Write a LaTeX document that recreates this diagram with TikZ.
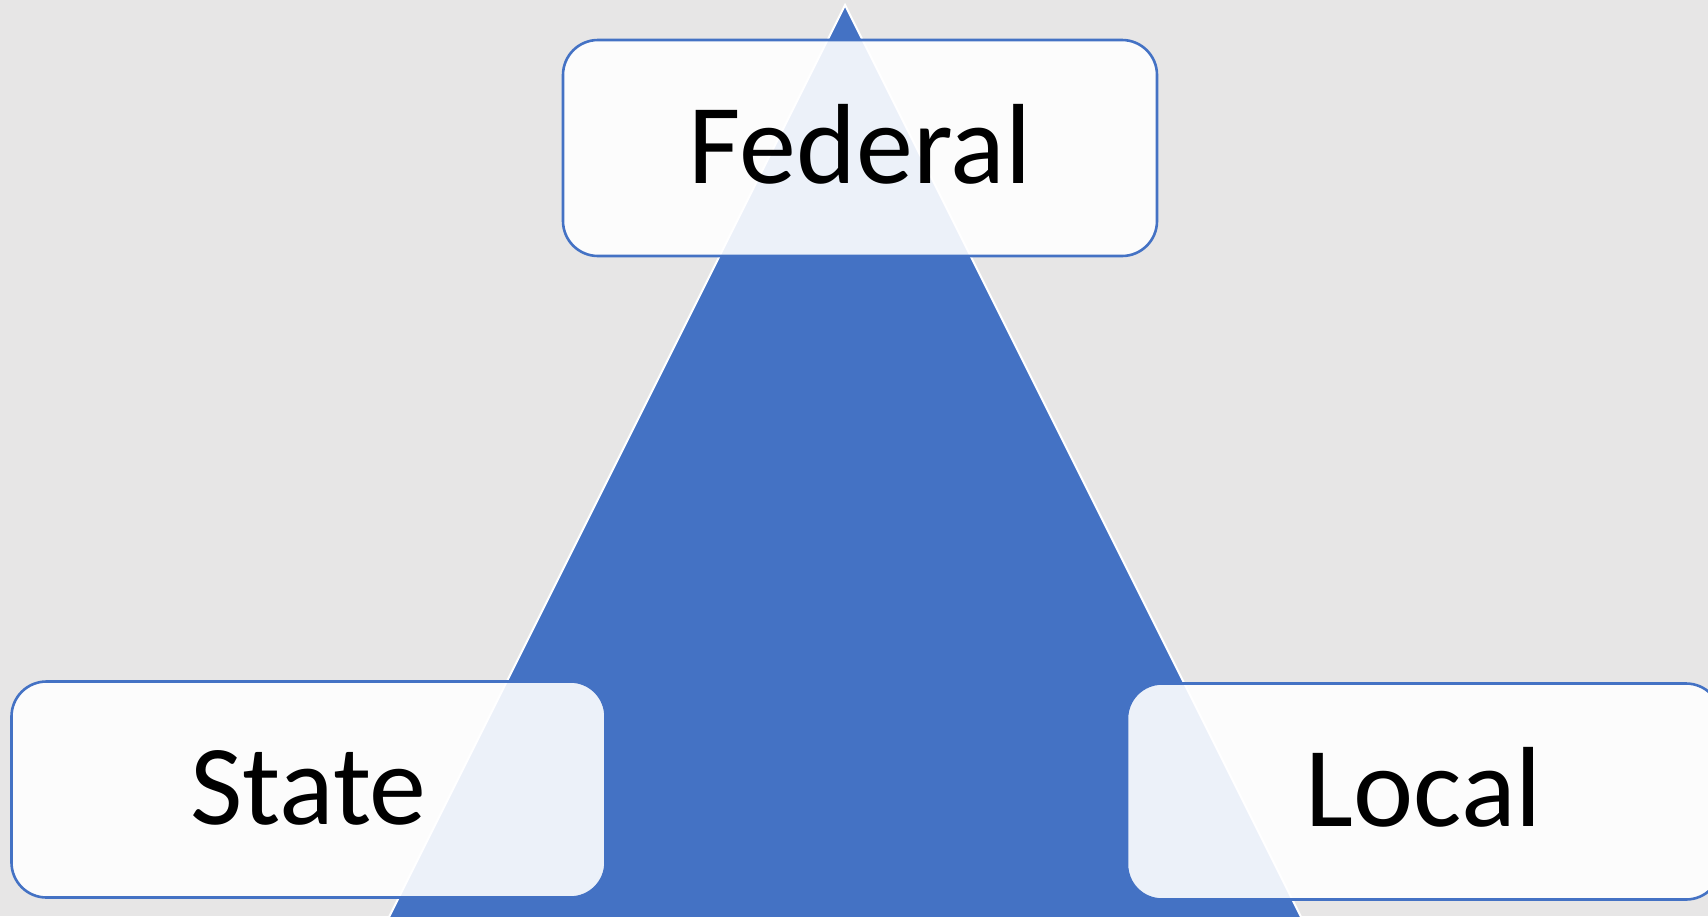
\documentclass[tikz,border=0pt]{standalone}
\usepackage{fontspec}
\setmainfont{Carlito}
\definecolor{tierblue}{HTML}{4472C4}
\definecolor{slidegrey}{HTML}{E7E6E6}
\begin{document}
\begin{tikzpicture}[x=0.5pt,y=-0.5pt,
    tier/.style={draw=tierblue,line width=1.3pt,rounded corners=17.5pt,
      fill=white,fill opacity=0.9,text opacity=1,
      minimum width=297pt,minimum height=108pt,text height=40pt,text depth=5pt,
      font=\fontsize{57}{68}\selectfont}]
      \useasboundingbox (0,0) rectangle (1708,916);
      \fill[slidegrey] (0,0) rectangle (1708,916);
      \clip (0,0) rectangle (1708,916);
      % pyramid behind the three levels
      \filldraw[fill=tierblue,draw=white,line width=1pt] (845,5) -- (1342.5,1000) -- (347.5,1000) -- cycle;
      \node[tier] (federal) at (860,148) {Federal};
      \node[tier] (state) at (308.5,789.5) {State};
      \node[tier] (local) at (1424,791.5) {Local};
    \end{tikzpicture}
\end{document}
